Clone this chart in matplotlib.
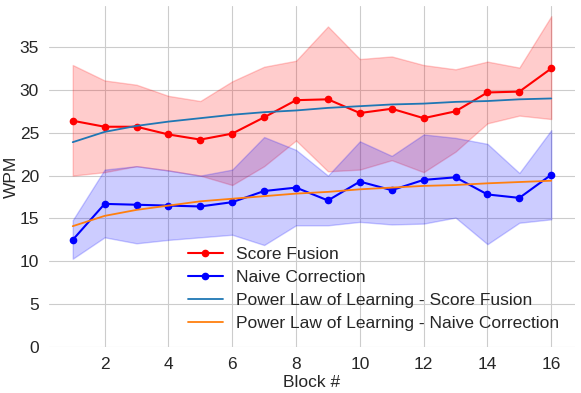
import matplotlib
matplotlib.use("Agg")
import matplotlib.pyplot as plt
import seaborn as sns

# bloques 1..16
bloques = list(range(1, 17))

# Score Fusion: media y banda
sf_media = [26.4, 25.7, 25.7, 24.8, 24.2, 24.9, 26.8, 28.8, 28.9, 27.3, 27.8, 26.7, 27.5, 29.7, 29.8, 32.5]
sf_alto = [32.9, 31.1, 30.6, 29.3, 28.7, 31.0, 32.7, 33.4, 37.4, 33.6, 33.9, 32.9, 32.4, 33.3, 32.6, 38.6]
sf_bajo = [20.0, 20.4, 21.1, 20.6, 20.0, 18.9, 21.1, 24.1, 20.5, 20.7, 21.8, 20.4, 22.8, 26.1, 27.0, 26.6]

# Naive Correction: media y banda
nc_media = [12.5, 16.7, 16.6, 16.5, 16.4, 16.9, 18.2, 18.6, 17.1, 19.3, 18.3, 19.5, 19.8, 17.8, 17.4, 20.1]
nc_alto = [14.8, 20.7, 21.1, 20.6, 20.0, 20.7, 24.5, 23.0, 20.0, 24.0, 22.3, 24.8, 24.4, 23.7, 20.3, 25.3]
nc_bajo = [10.3, 12.8, 12.1, 12.5, 12.8, 13.1, 11.9, 14.2, 14.2, 14.6, 14.3, 14.4, 15.1, 12.0, 14.5, 14.9]

# curvas de ley de potencia
ley_sf = [23.9, 25.1, 25.8, 26.3, 26.7, 27.1, 27.4, 27.6, 27.9, 28.1, 28.3, 28.4, 28.6, 28.7, 28.9, 29.0]
ley_nc = [14.1, 15.3, 16.0, 16.5, 17.0, 17.3, 17.6, 17.9, 18.1, 18.4, 18.6, 18.8, 18.9, 19.1, 19.25, 19.4]

TAM = 12.5


def main():
    sns.set_style("whitegrid")
    plt.rcParams['font.family'] = ['Liberation Sans', 'DejaVu Sans']

    fig, ax = plt.subplots(figsize=(5.81, 3.93), dpi=100)
    fig.subplots_adjust(left=0.084, right=0.99, top=0.985, bottom=0.117)

    ax.fill_between(bloques, sf_bajo, sf_alto, color="red", alpha=0.2)
    ax.fill_between(bloques, nc_bajo, nc_alto, color="blue", alpha=0.2)

    ax.plot(bloques, sf_media, color="red", marker="o", markersize=4.5, lw=1.5, label="Score Fusion")
    ax.plot(bloques, nc_media, color="blue", marker="o", markersize=4.5, lw=1.5, label="Naive Correction")
    ax.plot(bloques, ley_sf, color="#1f77b4", lw=1.3, label="Power Law of Learning - Score Fusion")
    ax.plot(bloques, ley_nc, color="#ff7f0e", lw=1.3, label="Power Law of Learning - Naive Correction")

    ax.set_ylim(0, 39.8)
    ax.set_xticks([2, 4, 6, 8, 10, 12, 14, 16])
    ax.set_yticks([0, 5, 10, 15, 20, 25, 30, 35])
    ax.tick_params(labelsize=TAM, colors="#262626", pad=3.5)
    ax.set_xlabel("Block #", fontsize=TAM, color="#262626", labelpad=2)
    ax.set_ylabel("WPM", fontsize=TAM, color="#262626")
    # borde derecho del texto a ~19 px
    ax.yaxis.set_label_coords(-0.057, 0.5)
    for s in ax.spines.values():
        s.set_visible(False)

    ax.legend(loc="lower right", frameon=False, fontsize=TAM,
              borderaxespad=0.5, handletextpad=0.8, labelspacing=0.45)

    plt.savefig("out.png", dpi=100)
    plt.close()


if __name__ == "__main__":
    main()
